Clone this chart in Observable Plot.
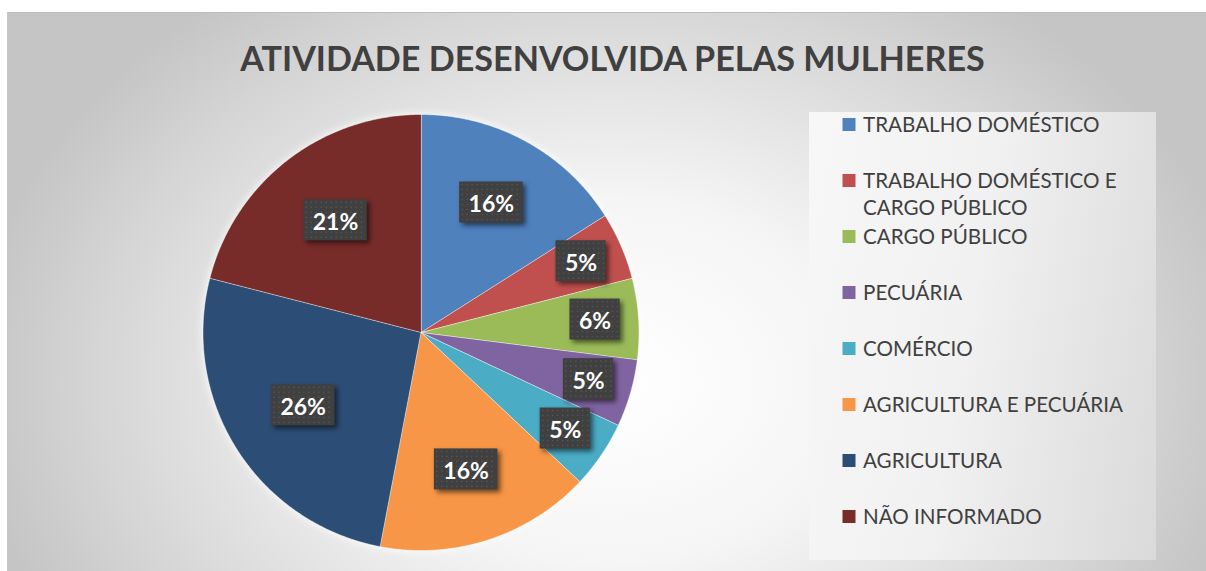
<!DOCTYPE html>
<html>
<head>
<meta charset="utf-8">
<script src="https://cdn.jsdelivr.net/npm/d3@7"></script>
<script src="https://cdn.jsdelivr.net/npm/@observablehq/plot@0.6"></script>
<style>
  html, body { margin: 0; padding: 0; width: 1206px; height: 571px; overflow: hidden; background: #ffffff; }
  #frame { position: absolute; left: 7px; top: 12px; width: 1199px; height: 559px; box-sizing: border-box;
    border-top: 1px solid #bcbcbc; border-left: 1px solid #c8c8c8;
    background: radial-gradient(640px 480px at 603px 368px, #ffffff 0%, #f5f5f5 38%, #e3e3e3 62%, #d4d4d4 82%, #c5c5c5 100%); }
  #legendbox { position: absolute; left: 809px; top: 112px; width: 347px; height: 448px;
    background: linear-gradient(100deg, #f7f7f7 0%, #f1f1f1 45%, #dadada 100%); }
  #chart { position: absolute; left: 0; top: 0; }
  #overlay { position: absolute; left: 0; top: 0; }
</style>
</head>
<body>
<div id="frame"></div>
<div id="legendbox"></div>
<div id="chart"></div>
<svg id="overlay" width="1206" height="571"></svg>
<script>
// ---- data ----
const title = "ATIVIDADE DESENVOLVIDA PELAS MULHERES";
const categories = [
  "TRABALHO DOMÉSTICO",
  "TRABALHO DOMÉSTICO E CARGO PÚBLICO",
  "CARGO PÚBLICO",
  "PECUÁRIA",
  "COMÉRCIO",
  "AGRICULTURA E PECUÁRIA",
  "AGRICULTURA",
  "NÃO INFORMADO"
];
const values = [16, 5, 6, 5, 5, 16, 26, 21];
const colors = ["#4F81BD", "#C0504D", "#9BBB59", "#8064A2", "#4BACC6", "#F79646", "#2C4D75", "#772C2A"];

// ---- layout ----
const W = 1206, H = 571;
const cx = 420.5, cy = 332, R = 218;
const FONT = "Lato, 'Open Sans', 'DejaVu Sans', sans-serif";

const arcs = d3.pie().sort(null).value(d => d.value)(categories.map((c, i) => ({cat: c, value: values[i]})));
const total = d3.sum(values);

// polygon points for each slice (unit circle coords)
const slicePts = [];
for (const a of arcs) {
  slicePts.push({cat: a.data.cat, x: 0, y: 0});
  const n = Math.max(2, Math.ceil((a.endAngle - a.startAngle) / (Math.PI / 360)));
  for (let k = 0; k <= n; k++) {
    const t = a.startAngle + (a.endAngle - a.startAngle) * k / n;
    slicePts.push({cat: a.data.cat, x: Math.sin(t), y: Math.cos(t)});
  }
}

const labels = arcs.map(a => {
  const mid = (a.startAngle + a.endAngle) / 2;
  const r = a.data.value >= 20 ? 0.64 : a.data.value >= 10 ? 0.67 : 0.80;
  return {x: r * Math.sin(mid), y: r * Math.cos(mid), text: Math.round(a.data.value / total * 100) + "%"};
});

const plot = Plot.plot({
  width: W, height: H, margin: 0,
  x: {domain: [-1, 1], range: [cx - R, cx + R], axis: null},
  y: {domain: [-1, 1], range: [cy + R, cy - R], axis: null},
  color: {domain: categories, range: colors},
  style: {background: "transparent", overflow: "visible"},
  marks: [
    Plot.line(slicePts, {x: "x", y: "y", z: "cat", fill: "cat", stroke: "white", strokeWidth: 0.8, strokeOpacity: 0.55, curve: "linear-closed"}),
    Plot.text(labels, {x: "x", y: "y", text: "text", fill: "white", fontWeight: "bold", fontSize: 23, fontFamily: FONT})
  ]
});
document.getElementById("chart").appendChild(plot);

const ns = "http://www.w3.org/2000/svg";
const sliceG = plot.querySelector('g[aria-label="line"]');
if (sliceG) sliceG.style.filter = "drop-shadow(0px 0px 5px rgba(255,255,255,0.95))";

const xs = plot.scale("x"), ys = plot.scale("y");
const textG = plot.querySelector('g[aria-label="text"]');
if (textG) {
  const boxG = document.createElementNS(ns, "g");
  boxG.style.filter = "drop-shadow(3px 3px 2.5px rgba(0,0,0,0.55))";
  textG.parentNode.insertBefore(boxG, textG);
  const dotG = document.createElementNS(ns, "g");
  textG.parentNode.insertBefore(dotG, textG);
  const texts = textG.querySelectorAll("text");
  labels.forEach((d, i) => {
    const t = texts[i];
    const tw = t ? t.getComputedTextLength() : 40;
    const w = tw + 18, h = 41;
    const px = xs.apply(d.x), py = ys.apply(d.y);
    const x0 = px - w / 2, y0 = py - 2 - h / 2;
    const r = document.createElementNS(ns, "rect");
    r.setAttribute("x", x0); r.setAttribute("y", y0);
    r.setAttribute("width", w); r.setAttribute("height", h);
    r.setAttribute("fill", "#404040");
    boxG.appendChild(r);
    for (let yy = y0 + 3; yy < y0 + h - 1; yy += 5) {
      for (let xx = x0 + 3; xx < x0 + w - 1; xx += 5) {
        const c = document.createElementNS(ns, "circle");
        c.setAttribute("cx", xx); c.setAttribute("cy", yy); c.setAttribute("r", 0.8);
        c.setAttribute("fill", "#565656");
        dotG.appendChild(c);
      }
    }
  });
}

// ---- title & legend (overlay) ----
const ov = d3.select("#overlay");
const tt = ov.append("text").attr("x", 612.5).attr("y", 71).attr("text-anchor", "middle")
  .attr("font-family", FONT).attr("font-weight", "bold").attr("font-size", 36).attr("fill", "#404040").text(title);
{
  const w = tt.node().getComputedTextLength();
  tt.attr("font-size", 36 * 745 / w);
}

const probe = ov.append("text").attr("font-family", FONT).attr("font-size", 20).text(categories[5]);
const lfs = 20 * 260 / probe.node().getComputedTextLength();
probe.remove();

const maxW = 282;
categories.forEach((c, i) => {
  const yc = 124.5 + 56 * i;
  ov.append("rect").attr("x", 842.5).attr("y", yc - 6.5).attr("width", 13).attr("height", 13).attr("fill", colors[i]);
  const t = ov.append("text").attr("x", 863).attr("y", yc + 7.2).attr("font-family", FONT).attr("font-size", lfs).attr("fill", "#404040");
  const words = c.split(" ");
  let line = [], lines = [];
  const m = ov.append("text").attr("font-family", FONT).attr("font-size", lfs);
  for (const wd of words) {
    const test = line.concat([wd]).join(" ");
    m.text(test);
    if (m.node().getComputedTextLength() > maxW && line.length) { lines.push(line.join(" ")); line = [wd]; }
    else line.push(wd);
  }
  lines.push(line.join(" "));
  m.remove();
  lines.forEach((l, k) => {
    t.append("tspan").attr("x", 863).attr("dy", k === 0 ? 0 : 27).text(l);
  });
});
</script>
</body>
</html>
